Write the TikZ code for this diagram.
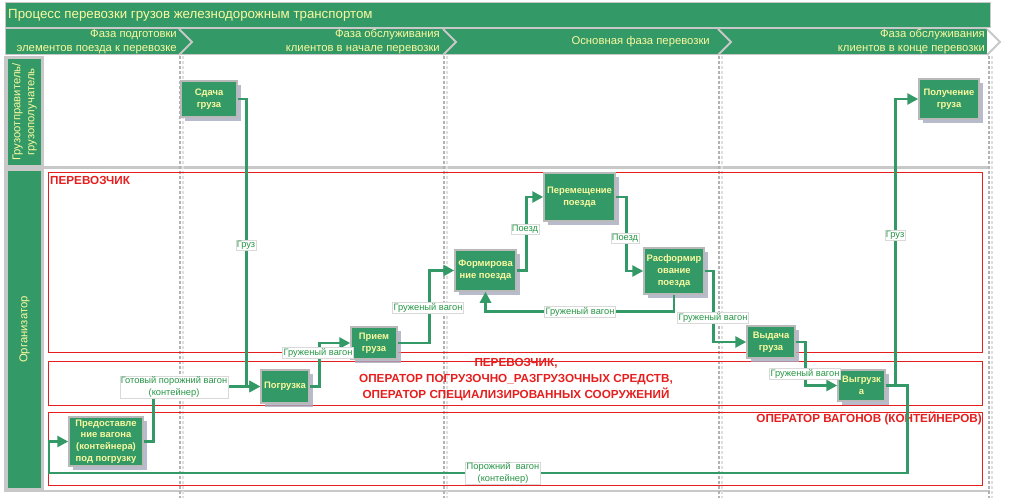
\documentclass[tikz,border=0pt]{standalone}
\usepackage{fontspec}
\setmainfont{Liberation Sans}
\usetikzlibrary{arrows.meta,calc,shadows}
\definecolor{pgreen}{RGB}{51,153,102}
\definecolor{pyellow}{RGB}{250,250,160}
\definecolor{lgreen}{RGB}{40,150,70}
\definecolor{boxgray}{RGB}{185,185,185}
\definecolor{shadowc}{RGB}{165,170,190}
\definecolor{rred}{RGB}{230,30,30}
\definecolor{laneg}{RGB}{200,200,200}
\newcommand\myboxfont{\bfseries\fontsize{9.4}{11.8}\selectfont}
\newcommand\mylblfont{\fontsize{9.3}{11.5}\selectfont}
\newcommand\myhdrfont{\fontsize{11.3}{14}\selectfont}
\newcommand\myredfont{\bfseries\fontsize{11.7}{16}\selectfont}
\tikzset{
  proc/.style={draw=boxgray, line width=1.5pt, fill=pgreen, text=pyellow, font=\myboxfont,
    align=center, inner sep=1pt,
    drop shadow={shadow xshift=4pt, shadow yshift=-4pt, fill=shadowc, opacity=0.8}},
  conn/.style={draw=pgreen, line width=2.7pt, -{Triangle[length=11pt,width=11pt]}},
  lbl/.style={fill=white, draw=gray!30, line width=0.5pt, text=lgreen, font=\mylblfont,
    inner sep=1pt, align=center},
  redbox/.style={draw=rred, line width=1pt},
  redtxt/.style={text=rred, font=\myredfont, inner sep=0pt, align=center},
  hdrtxt/.style={text=pyellow, font=\myhdrfont, inner sep=0pt, align=right},
  chev/.style={draw=laneg, line width=2pt},
  phsep/.style={draw=gray!60, line width=1.2pt, dash pattern=on 3pt off 2pt},
  phsepl/.style={draw=gray!25, line width=1.2pt, dash pattern=on 3pt off 2pt},
  lanebox/.style={fill=pgreen, draw=laneg, line width=1.5pt}
}
\begin{document}
\begin{tikzpicture}[x=1pt,y=-1pt]
\useasboundingbox (0,0) rectangle (1009,500);
\fill[white] (0,0) rectangle (1009,500);
% title bar
\fill[pgreen] (5,3) rectangle (990,28);
\draw[laneg, line width=1pt] (5,3) rectangle (990,28);
\node[text=pyellow, font=\fontsize{13.3}{15}\selectfont, anchor=west, inner sep=0pt] (title) at (8,15.5) {Процесс перевозки грузов железнодорожным транспортом};
% phase header
\fill[pgreen] (5,29) rectangle (987,55);
\draw[laneg, line width=1pt] (5,29) -- (987,29) (5,55) -- (987,55) (5,29) -- (5,55);
\foreach \xb in {179,443,718,987}{
  \draw[chev] (\xb,29) -- (\xb+13,42) -- (\xb,55);
}
\node[hdrtxt, anchor=east] (ph1) at (177,42) {Фаза подготовки\\элементов поезда к перевозке};
\node[hdrtxt, anchor=east] (ph2) at (440,42) {Фаза обслуживания\\клиентов в начале перевозки};
\node[hdrtxt, anchor=east] (ph3) at (710,42) {Основная фаза перевозки};
\node[hdrtxt, anchor=east] (ph4) at (985,42) {Фаза обслуживания\\клиентов в конце перевозки};
% lane column
\fill[laneg] (4,56) rectangle (44,492);
\draw[lanebox] (7,58) rectangle (42,166);
\draw[lanebox] (7,170) rectangle (42,489);
\node[text=pyellow, font=\myhdrfont, rotate=90, align=center, inner sep=0pt] (lane1) at (24.5,112) {Грузоотправитель/\\грузополучатель};
\node[text=pyellow, font=\myhdrfont, rotate=90, inner sep=0pt] (lane2) at (24.5,329.5) {Организатор};
% lane separators
\draw[laneg, line width=2.5pt] (44,167.5) -- (990,167.5);
\draw[laneg, line width=2.5pt] (44,491) -- (990,491);
% phase separators
\foreach \xs in {180,444,719,989}{
  \draw[phsep] (\xs,56) -- (\xs,498);
  \draw[phsepl] (\xs+3,56) -- (\xs+3,498);
}
% responsibility boxes
\draw[redbox] (48.5,172.5) rectangle (982.5,352.5);
\draw[redbox] (48.5,361.5) rectangle (982.5,405);
\draw[redbox] (48.5,412) rectangle (982.5,485);
\node[redtxt, anchor=west] (r1) at (50,180.5) {ПЕРЕВОЗЧИК};
\node[redtxt] (r2) at (516,380) {ПЕРЕВОЗЧИК,\\ОПЕРАТОР ПОГРУЗОЧНО\_РАЗГРУЗОЧНЫХ СРЕДСТВ,\\ОПЕРАТОР СПЕЦИАЛИЗИРОВАННЫХ СООРУЖЕНИЙ};
\node[redtxt, anchor=east] (r3) at (982,418.5) {ОПЕРАТОР ВАГОНОВ (КОНТЕЙНЕРОВ)};
% process boxes
\node[proc, minimum width=56, minimum height=36] (sdacha) at (209,99) {Сдача\\груза};
\node[proc, minimum width=60, minimum height=40] (poluch) at (949,99) {Получение\\груза};
\node[proc, minimum width=71, minimum height=48] (perem) at (579.5,197) {Перемещение\\поезда};
\node[proc, minimum width=61, minimum height=41] (form) at (485.5,270.5) {Формирова\\ние поезда};
\node[proc, minimum width=60, minimum height=46] (rasf) at (674,271) {Расформир\\ование\\поезда};
\node[proc, minimum width=46, minimum height=32] (priem) at (374,343) {Прием\\груза};
\node[proc, minimum width=48, minimum height=33] (pogr) at (285,386.5) {Погрузка};
\node[proc, minimum width=48, minimum height=32] (vydacha) at (771,342) {Выдача\\груза};
\node[proc, minimum width=47, minimum height=31] (vygr) at (861.5,385.5) {Выгрузк\\а};
\node[proc, minimum width=74, minimum height=49] (predost) at (106,441.5) {Предоставле\\ние вагона\\(контейнера)\\под погрузку};
% connectors
\coordinate (bl) at (49,473);
\draw[conn] (sdacha.east) -- ++(9,0) |- (pogr.west);
\draw[conn] (predost.east) -- ++(10,0) |- (pogr.west);
\draw[conn] (pogr.east) -- ++(10,0) |- (priem.west);
\draw[conn] (priem.east) -- ++(32,0) |- (form.west);
\draw[conn] (form.east) -- ++(10,0) |- (perem.west);
\draw[conn] (perem.east) -- ++(11,0) |- (rasf.west);
\draw[conn] (rasf.south) -- ++(0,17) -| (form.south);
\draw[conn] (rasf.east) -- ++(9,0) |- (vydacha.west);
\draw[conn] (vydacha.east) -- ++(10,0) |- (vygr.west);
\draw[conn] (vygr.east) -- ++(10,0) |- (poluch.west);
\draw[conn] (vygr.east) -- ++(22,0) |- (bl) |- (predost.west);
% connector labels
\node[lbl] (l1) at (246,245) {Груз};
\node[lbl] (l2) at (174,387) {Готовый порожний вагон\\(контейнер)};
\node[lbl] (l3) at (318,353) {Груженый вагон};
\node[lbl] (l4) at (428,308) {Груженый вагон};
\node[lbl] (l5) at (525,229) {Поезд};
\node[lbl] (l6) at (625,238) {Поезд};
\node[lbl] (l7) at (580,312) {Груженый вагон};
\node[lbl] (l8) at (713,318) {Груженый вагон};
\node[lbl] (l9) at (805,374) {Груженый вагон};
\node[lbl] (l10) at (895,235) {Груз};
\node[lbl] (l11) at (503,473) {Порожний\ \ вагон\\(контейнер)};
\end{tikzpicture}
\end{document}
